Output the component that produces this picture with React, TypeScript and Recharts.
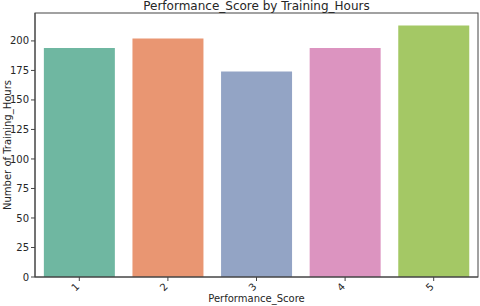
import React from 'react';
import { BarChart, Bar, Cell, XAxis, YAxis } from 'recharts';

document.body.style.margin = '0';

const categories = ['1', '2', '3', '4', '5'];
const counts = [194, 202, 174, 194, 213];
const barColors = ['#6fb7a1', '#e99672', '#93a4c5', '#dc94c0', '#a4c865'];
const yTicks = [0, 25, 50, 75, 100, 125, 150, 175, 200];

const data = categories.map((c, i) => ({ name: c, value: counts[i] }));

const font = '"DejaVu Sans", sans-serif';
const textColor = '#262626';

// plot box, matches the chart margins below
const plot = { left: 35, top: 13, width: 443, height: 264 };

const RotatedTick = ({ x, y, payload }: any) => (
  <g transform={`translate(${x - 4},${y + 4}) rotate(-45)`}>
    <text
      x={0}
      y={0}
      textAnchor="middle"
      dominantBaseline="central"
      fontSize={10}
      fontFamily={font}
      fill={textColor}
    >
      {payload.value}
    </text>
  </g>
);

const App: React.FC = () => {
  return (
    <div style={{ position: 'relative', width: 480, height: 306, background: '#fff' }}>
      <BarChart
        width={480}
        height={306}
        data={data}
        margin={{ top: 13, right: 2, bottom: 0, left: 0 }}
        barCategoryGap="10%"
      >
        <XAxis
          dataKey="name"
          height={29}
          tickSize={4}
          tick={<RotatedTick />}
          stroke="#444"
          tickLine={{ stroke: '#444' }}
        />
        <YAxis
          domain={[0, 223.65]}
          ticks={yTicks}
          width={35}
          tickSize={4}
          tickMargin={2}
          stroke="#444"
          tick={{ fontSize: 10, fontFamily: font, fill: textColor }}
          allowDataOverflow
        />
        <Bar dataKey="value" isAnimationActive={false}>
          {data.map((d, i) => (
            <Cell key={d.name} fill={barColors[i]} />
          ))}
        </Bar>
      </BarChart>
      <svg
        width={480}
        height={306}
        style={{ position: 'absolute', left: 0, top: 0, pointerEvents: 'none' }}
        fontFamily={font}
        fill={textColor}
      >
        <rect
          x={plot.left}
          y={plot.top}
          width={plot.width}
          height={plot.height}
          fill="none"
          stroke="#444"
          strokeWidth={1}
        />
        <text x={plot.left + plot.width / 2} y={10} textAnchor="middle" fontSize={12}>
          Performance_Score by Training_Hours
        </text>
        <text x={plot.left + plot.width / 2} y={302} textAnchor="middle" fontSize={10}>
          Performance_Score
        </text>
        <g transform={`translate(11,${plot.top + plot.height / 2}) rotate(-90)`}>
          <text x={0} y={0} textAnchor="middle" fontSize={10}>
            Number of Training_Hours
          </text>
        </g>
      </svg>
    </div>
  );
};

export default App;
